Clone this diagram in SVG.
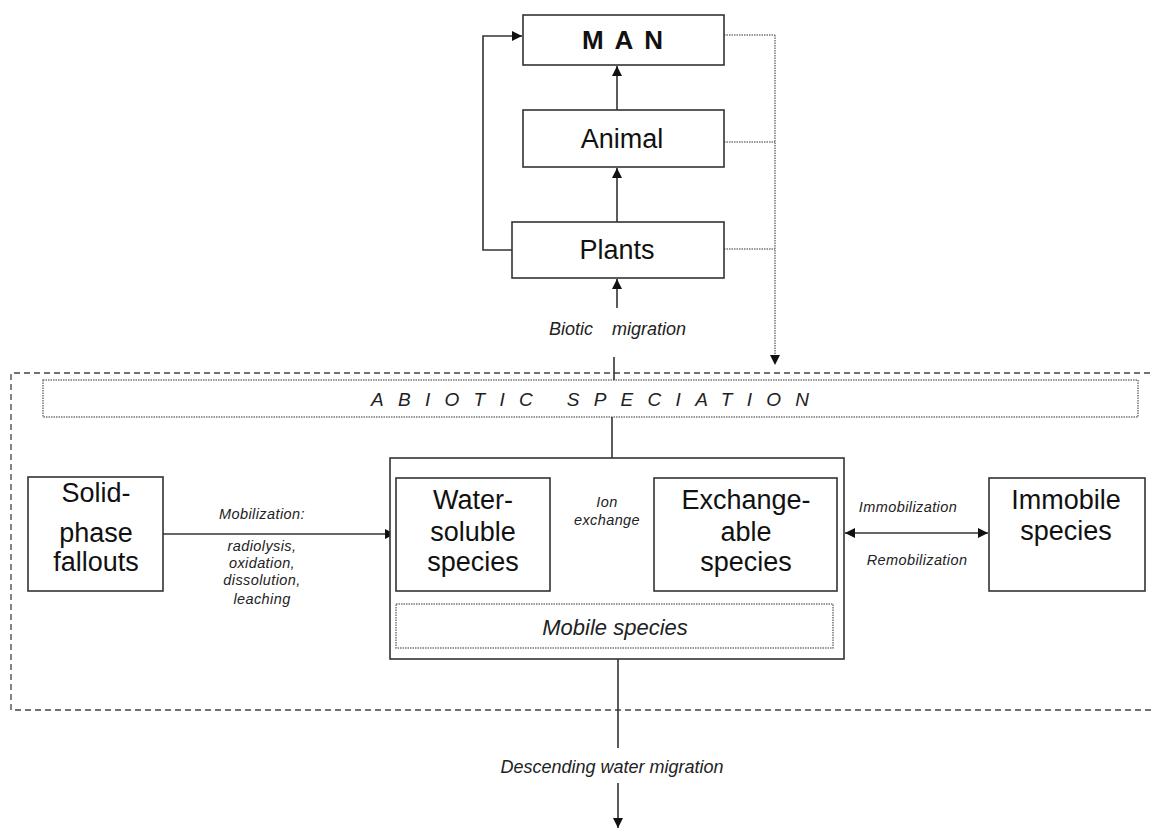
<svg xmlns="http://www.w3.org/2000/svg" width="1153" height="829" viewBox="0 0 1153 829">
<style>
.box{fill:#fff;stroke:#333;stroke-width:1.6}
.dot{fill:none;stroke:#777;stroke-width:1.5;stroke-dasharray:1.5 1}
.dash{fill:none;stroke:#444;stroke-width:1.3;stroke-dasharray:6 4}
.ln{fill:none;stroke:#333;stroke-width:1.6}
.big{font-family:"Liberation Sans",Arial,sans-serif;font-size:27px;fill:#111;text-anchor:middle}
.it{font-family:"Liberation Sans",Arial,sans-serif;font-style:italic;fill:#222;text-anchor:middle}
.sm{font-size:14.5px;letter-spacing:0.4px}
</style>
<defs>
<marker id="ah" viewBox="0 0 10 10" refX="10" refY="5" markerWidth="10" markerHeight="10" markerUnits="userSpaceOnUse" orient="auto-start-reverse">
<path d="M0,0 L10,5 L0,10 z" fill="#111"/>
</marker>
</defs>
<rect width="1153" height="829" fill="#fff"/>

<g id="frame">
<path class="dash" d="M1160,373 H11 V710 H1160"/>
</g>

<g id="abiotic">
<rect class="dot" x="43" y="380" width="1095" height="37"/>
<text class="it" x="590" y="406" font-size="19" textLength="438" lengthAdjust="spacing">ABIOTIC SPECIATION</text>
</g>

<g id="connectors">
<path class="ln" d="M617,110 V66" marker-end="url(#ah)"/>
<path class="ln" d="M617,222 V168" marker-end="url(#ah)"/>
<path class="ln" d="M512,250 H483 V36 H522" marker-end="url(#ah)"/>
<path class="ln" d="M617,308 V279" marker-end="url(#ah)"/>
<path class="ln" d="M614,357 V380"/>
<path class="dot" d="M724,35 H775 M724,142 H775 M724,249 H775 M775,35 V355"/>
<path d="M770,355 L780,355 L775,365 z" fill="#111"/>
<path class="ln" d="M612,417 V458"/>
<path class="ln" d="M163,534 H395" marker-end="url(#ah)"/>
<path class="ln" d="M551,534 H653" marker-start="url(#ah)" marker-end="url(#ah)"/>
<path class="ln" d="M845,533 H988" marker-start="url(#ah)" marker-end="url(#ah)"/>
<path class="ln" d="M618,659 V748"/>
<path class="ln" d="M618,783 V828" marker-end="url(#ah)"/>
</g>

<g id="man">
<rect class="box" x="523" y="15" width="201" height="50"/>
<text x="628" y="49" font-family="Liberation Sans,Arial,sans-serif" font-size="26" font-weight="bold" text-anchor="middle" letter-spacing="11" fill="#111">MAN</text>
</g>
<g id="animal">
<rect class="box" x="523" y="110" width="201" height="57"/>
<text class="big" x="622" y="148">Animal</text>
</g>
<g id="plants">
<rect class="box" x="512" y="222" width="212" height="56"/>
<text class="big" x="617" y="259">Plants</text>
</g>

<g id="biotic-label">
<text class="it" font-size="18" y="335"><tspan x="571">Biotic</tspan><tspan x="649">migration</tspan></text>
</g>

<g id="solid">
<rect class="box" x="28" y="477" width="135" height="114"/>
<text class="big" x="96" y="502">Solid-</text>
<text class="big" x="96" y="542">phase</text>
<text class="big" x="96" y="571">fallouts</text>
</g>

<g id="mobilization-label">
<text class="it sm" x="262" y="519">Mobilization:</text>
<text class="it sm" x="262" y="551">radiolysis,</text>
<text class="it sm" x="262" y="568">oxidation,</text>
<text class="it sm" x="262" y="585">dissolution,</text>
<text class="it sm" x="262" y="604">leaching</text>
</g>

<g id="mobile">
<rect class="box" x="390" y="458" width="454" height="201"/>
<rect class="dot" x="396" y="604" width="437" height="44"/>
<text class="it" x="615" y="635" font-size="22">Mobile species</text>
</g>

<g id="water">
<rect class="box" x="396" y="478" width="154" height="113"/>
<text class="big" x="473" y="509">Water-</text>
<text class="big" x="473" y="541">soluble</text>
<text class="big" x="473" y="571">species</text>
</g>

<g id="ion-label">
<text class="it sm" x="607" y="507">Ion</text>
<text class="it sm" x="607" y="525">exchange</text>
</g>

<g id="exchange">
<rect class="box" x="654" y="478" width="183" height="113"/>
<text class="big" x="746" y="509">Exchange-</text>
<text class="big" x="746" y="541">able</text>
<text class="big" x="746" y="571">species</text>
</g>

<g id="immob-label">
<text class="it sm" x="908" y="512">Immobilization</text>
<text class="it sm" x="917" y="565">Remobilization</text>
</g>

<g id="immobile">
<rect class="box" x="989" y="478" width="156" height="113"/>
<text class="big" x="1066" y="509">Immobile</text>
<text class="big" x="1066" y="540">species</text>
</g>

<g id="descending-label">
<text class="it" x="612" y="773" font-size="18">Descending water migration</text>
</g>
</svg>
